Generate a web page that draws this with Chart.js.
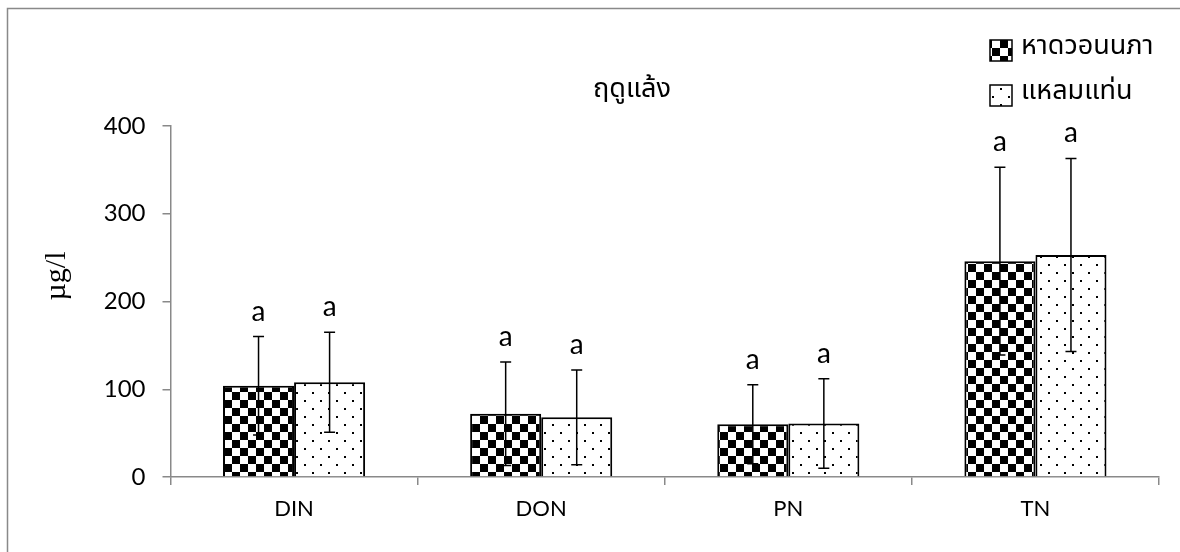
<!DOCTYPE html>
<html>
<head>
<meta charset="utf-8">
<script src="https://cdn.jsdelivr.net/npm/chart.js@4.4.0/dist/chart.umd.min.js"></script>
<style>
  html, body { margin: 0; padding: 0; background: #fff; }
</style>
</head>
<body>
<canvas id="bar-chart" width="1180" height="552"></canvas>
<script>
// data
const categories = ["DIN", "DON", "PN", "TN"];
const seriesNames = ["หาดวอนนภา", "แหลมแท่น"];
const wonnapaMean = [104, 72, 60, 246];
const wonnapaErr = [56, 59, 45, 107];
const laemthaenMean = [108, 68, 61, 253];
const laemthaenErr = [57, 54, 51, 110];
const wonnapaLetters = ["a", "a", "a", "a"];
const laemthaenLetters = ["a", "a", "a", "a"];
const yTicks = [0, 100, 200, 300, 400];
const chartTitle = "ฤดูแล้ง";
const yTitle = "µg/l";

const axisGray = '#898989';
const thaiFont = '"Noto Sans Thai", "Noto Sans", Tahoma, sans-serif';

let ctx = document.getElementById('bar-chart').getContext('2d');

function makePattern(kind) {
    const c = document.createElement('canvas');
    c.width = 16; c.height = 16;
    const g = c.getContext('2d');
    g.fillStyle = '#fff';
    g.fillRect(0, 0, 16, 16);
    g.fillStyle = '#000';
    if (kind === 'checker') {
        g.fillRect(0, 0, 8, 8);
        g.fillRect(8, 8, 8, 8);
    } else {
        g.fillRect(0, 0, 2, 2);
        g.fillRect(8, 8, 2, 2);
    }
    return ctx.createPattern(c, 'repeat');
}

const checker = makePattern('checker');
const dots = makePattern('dots');

const errors = [wonnapaErr, laemthaenErr];
const letters = [wonnapaLetters, laemthaenLetters];

// error bars, letters, title, legend, frame
const decor = {
    id: 'decor',
    beforeDraw(chart) {
        const c = chart.ctx;
        c.save();
        c.strokeStyle = axisGray;
        c.lineWidth = 1.5;
        c.strokeRect(7.5, 8.5, 1200, 600);
        c.restore();
    },
    afterDatasetsDraw(chart) {
        const c = chart.ctx;
        const y = chart.scales.y;
        c.save();
        chart.data.datasets.forEach((ds, i) => {
            const meta = chart.getDatasetMeta(i);
            meta.data.forEach((bar, j) => {
                const v = ds.data[j];
                const e = errors[i][j];
                const top = y.getPixelForValue(v + e);
                const bot = y.getPixelForValue(Math.max(v - e, 0));
                c.strokeStyle = '#000';
                c.lineWidth = 1.5;
                c.beginPath();
                c.moveTo(bar.x, top); c.lineTo(bar.x, bot);
                c.moveTo(bar.x - 5.5, top); c.lineTo(bar.x + 5.5, top);
                c.moveTo(bar.x - 5.5, bot); c.lineTo(bar.x + 5.5, bot);
                c.stroke();
                c.fillStyle = '#000';
                c.font = '28px Lato';
                c.textAlign = 'center';
                c.textBaseline = 'alphabetic';
                c.fillText(letters[i][j], bar.x, top - 16);
            });
        });
        c.restore();
    },
    afterDraw(chart) {
        const c = chart.ctx;
        c.save();
        c.fillStyle = '#000';
        c.textBaseline = 'middle';
        // title
        c.font = '27px ' + thaiFont;
        c.textAlign = 'center';
        c.fillText(chartTitle, 632, 92);
        // y axis title
        c.save();
        c.translate(57, 276);
        c.rotate(-Math.PI / 2);
        c.font = '30px "Liberation Serif"';
        c.fillText(yTitle, 0, 0);
        c.restore();
        // legend
        const fills = [checker, dots];
        seriesNames.forEach((name, i) => {
            const by = 40 + i * 45;
            c.fillStyle = fills[i];
            c.fillRect(990, by, 22, 21);
            c.strokeStyle = '#000';
            c.lineWidth = 1.5;
            c.strokeRect(990, by, 22, 21);
            c.fillStyle = '#000';
            c.textAlign = 'left';
            c.font = '27px ' + thaiFont;
            c.fillText(name, 1021, by + 9);
        });
        c.restore();
    }
};

let barChart = new Chart(ctx, {
    type: 'bar',
    data: {
        labels: categories,
        datasets: [{
            label: seriesNames[0],
            data: wonnapaMean,
            backgroundColor: checker,
            borderColor: '#000',
            borderWidth: 2
        }, {
            label: seriesNames[1],
            data: laemthaenMean,
            backgroundColor: dots,
            borderColor: '#000',
            borderWidth: 2
        }]
    },
    options: {
        responsive: false,
        animation: false,
        layout: { padding: { left: 0, right: 21, top: 126, bottom: 0 } },
        datasets: { bar: { barPercentage: 1, categoryPercentage: 0.575 } },
        plugins: {
            legend: { display: false },
            title: { display: false },
            tooltip: { enabled: false }
        },
        scales: {
            x: {
                afterFit: s => { s.height = 75; },
                border: { color: axisGray, width: 1.5 },
                grid: { drawOnChartArea: false, drawTicks: true, tickLength: 8, color: axisGray, lineWidth: 1.5 },
                ticks: { color: '#000', font: { family: 'Lato', size: 22 }, padding: 11 }
            },
            y: {
                min: 0,
                max: 400,
                afterFit: s => { s.width = 170.5; },
                afterBuildTicks: s => { s.ticks = yTicks.map(v => ({ value: v })); },
                border: { color: axisGray, width: 1.5 },
                grid: { drawOnChartArea: false, drawTicks: true, tickLength: 8, color: axisGray, lineWidth: 1.5 },
                ticks: { color: '#000', font: { family: 'Lato', size: 24 }, padding: 17 }
            }
        }
    },
    plugins: [decor]
});
</script>
</body>
</html>
